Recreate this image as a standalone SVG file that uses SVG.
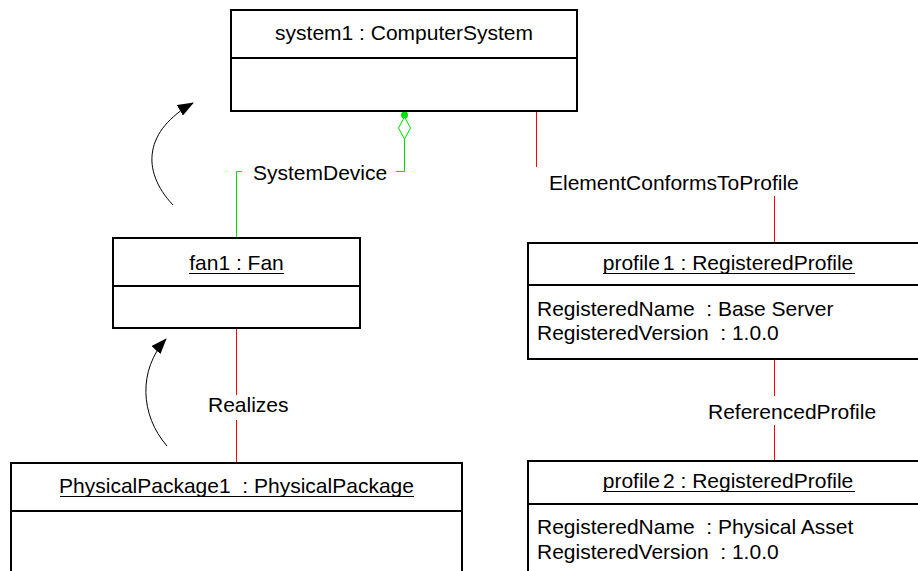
<svg xmlns="http://www.w3.org/2000/svg" width="918" height="571" viewBox="0 0 918 571">
<style>
  text { font-family: "Liberation Sans", Arial, sans-serif; font-size: 21px; fill: #000; white-space: pre; }
  .title { text-anchor: middle; }
  .ul { stroke: #000; stroke-width: 1; }
  .box { fill: #fff; stroke: #000; stroke-width: 2; }
  .div { stroke: #000; stroke-width: 2; }
  .red { stroke: #ff0000; stroke-width: 1; fill: none; }
  .green { stroke: #00e000; stroke-width: 1; fill: none; }
  .arc { stroke: #000; stroke-width: 1; fill: none; marker-end: url(#arrow); }
</style>
<defs>
  <marker id="arrow" viewBox="0 0 16 12" refX="15" refY="6" markerWidth="16" markerHeight="12" markerUnits="userSpaceOnUse" orient="auto">
    <path d="M0,0 L16,6 L0,12 z" fill="#000"/>
  </marker>
</defs>
<rect width="918" height="571" fill="#fff"/>

<g id="connectors">
  <!-- SystemDevice -->
  <circle cx="404.5" cy="115" r="3.5" fill="#00e000"/>
  <polygon points="404.5,117 410.5,128 404.5,139 398.5,128" fill="#fff" stroke="#00e000" stroke-width="1"/>
  <polyline class="green" points="404.5,139 404.5,171.5 396,171.5"/>
  <polyline class="green" points="242,171.5 236.5,171.5 236.5,238"/>
  <text x="253" y="180">SystemDevice</text>
  <!-- ElementConformsToProfile -->
  <line class="red" x1="536.5" y1="111" x2="536.5" y2="167"/>
  <text x="549" y="190">ElementConformsToProfile</text>
  <line class="red" x1="774.5" y1="196" x2="774.5" y2="243"/>
  <!-- ReferencedProfile -->
  <line class="red" x1="774.5" y1="359" x2="774.5" y2="396"/>
  <text x="708" y="419">ReferencedProfile</text>
  <line class="red" x1="774.5" y1="425" x2="774.5" y2="461"/>
  <!-- Realizes -->
  <line class="red" x1="236.5" y1="328" x2="236.5" y2="395"/>
  <text x="208" y="412">Realizes</text>
  <line class="red" x1="236.5" y1="420" x2="236.5" y2="463"/>
  <!-- direction arrows -->
  <path class="arc" d="M173,205 C140,170 145,130 193,103"/>
  <path class="arc" d="M167,446 C140,415 138,370 166,339"/>
</g>

<g id="system1">
  <rect class="box" x="231" y="10" width="346" height="101"/>
  <line class="div" x1="231" y1="58" x2="577" y2="58"/>
  <text class="title" x="404" y="40">system1 : ComputerSystem</text>
</g>

<g id="fan1">
  <rect class="box" x="113" y="238" width="247" height="90"/>
  <line class="div" x1="113" y1="286" x2="360" y2="286"/>
  <text class="title" x="236.5" y="270">fan1 : Fan</text>
  <line class="ul" x1="189" y1="273.5" x2="284" y2="273.5"/>
</g>

<g id="physicalpackage1">
  <rect class="box" x="11" y="463" width="451" height="130"/>
  <line class="div" x1="11" y1="511" x2="462" y2="511"/>
  <text class="title" x="236.5" y="493">PhysicalPackage1  : PhysicalPackage</text>
  <line class="ul" x1="60" y1="496.5" x2="414" y2="496.5"/>
</g>

<g id="profile1">
  <rect class="box" x="528" y="243" width="400" height="116"/>
  <line class="div" x1="528" y1="285" x2="928" y2="285"/>
  <text class="title" x="728" y="270">profile<tspan dx="3">1</tspan> : RegisteredProfile</text>
  <line class="ul" x1="603" y1="273.5" x2="855" y2="273.5"/>
  <text x="537" y="316">RegisteredName  : Base Server</text>
  <text x="537" y="340">RegisteredVersion  : 1.0.0</text>
</g>

<g id="profile2">
  <rect class="box" x="528" y="461" width="400" height="130"/>
  <line class="div" x1="528" y1="504" x2="928" y2="504"/>
  <text class="title" x="728" y="488">profile<tspan dx="3">2</tspan> : RegisteredProfile</text>
  <line class="ul" x1="603" y1="491.5" x2="855" y2="491.5"/>
  <text x="537" y="534">RegisteredName  : Physical Asset</text>
  <text x="537" y="559">RegisteredVersion  : 1.0.0</text>
</g>
</svg>
